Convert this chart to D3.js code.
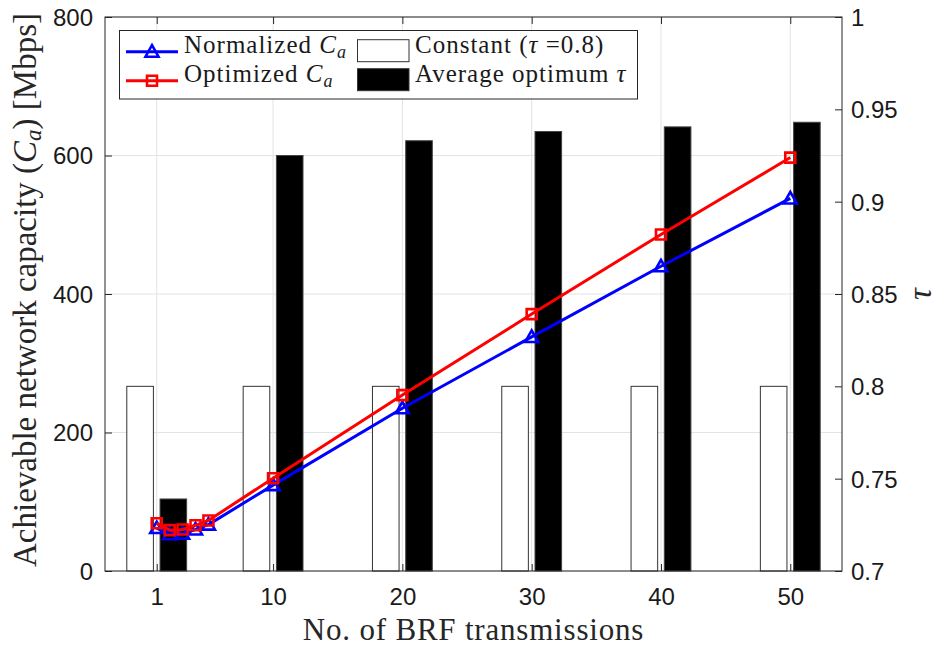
<!DOCTYPE html>
<html><head><meta charset="utf-8">
<script src="https://cdn.jsdelivr.net/npm/d3@7"></script>
<style>body{margin:0;background:#fff}</style>
</head><body><svg id="chart" width="939" height="648"></svg>
<script>
// ---- data ----
const brfTransmissions = [1, 2, 3, 4, 5, 10, 20, 30, 40, 50];
const normalizedCa = [62, 53, 54, 60, 67, 124, 235, 338, 440, 538];
const optimizedCa = [69, 59, 60, 66, 73, 134, 254, 371, 486, 597];
const barCategories = [1, 10, 20, 30, 40, 50];
const constantTau = [0.8, 0.8, 0.8, 0.8, 0.8, 0.8];
const avgOptimumTau = [0.739, 0.925, 0.933, 0.938, 0.9405, 0.943];
const xTickValues = [1, 10, 20, 30, 40, 50];
const xTickLabels = ["1", "10", "20", "30", "40", "50"];
const capacityTicks = [0, 200, 400, 600, 800];
const capacityTickLabels = ["0", "200", "400", "600", "800"];
const tauTicks = [0.7, 0.75, 0.8, 0.85, 0.9, 0.95, 1];
const tauTickLabels = ["0.7", "0.75", "0.8", "0.85", "0.9", "0.95", "1"];

// ---- layout ----
const L = 105, R = 842, T = 17, B = 571;
const svg = d3.select("#chart");
svg.append("rect").attr("width", 939).attr("height", 648).attr("fill", "#fff");

const x = d3.scaleLinear().domain([-3, 54]).range([L, R]);
const yL = d3.scaleLinear().domain([0, 800]).range([B, T]);
const yR = d3.scaleLinear().domain([0.7, 1]).range([B, T]);

const axisColor = "#262626";
const sans = "'Liberation Sans', Arial, sans-serif";
const serif = "'Liberation Serif', 'Times New Roman', serif";

// grid
const grid = svg.append("g").attr("stroke", "#e3e3e3").attr("stroke-width", 1);
grid.selectAll("line.v").data(xTickValues).join("line")
  .attr("x1", d => x(d)).attr("x2", d => x(d)).attr("y1", T).attr("y2", B);
grid.selectAll("line.h").data(capacityTicks).join("line")
  .attr("x1", L).attr("x2", R).attr("y1", d => yL(d)).attr("y2", d => yL(d));

// grouped bars (MATLAB-style group geometry)
const minGap = d3.min(d3.pairs(barCategories), p => p[1] - p[0]);
const groupW = minGap * Math.min(0.8, 2 / 3.5);
const barW = groupW / 2 * 0.8;
const off = groupW / 4;
const bars = svg.append("g");
bars.selectAll("rect.c").data(barCategories).join("rect")
  .attr("x", (d) => x(d - off - barW / 2))
  .attr("width", x(barW) - x(0))
  .attr("y", (d, i) => yR(constantTau[i]))
  .attr("height", (d, i) => yR(0.7) - yR(constantTau[i]))
  .attr("fill", "#fff").attr("stroke", "#333").attr("stroke-width", 1);
bars.selectAll("rect.o").data(barCategories).join("rect")
  .attr("x", (d) => x(d + off - barW / 2))
  .attr("width", x(barW) - x(0))
  .attr("y", (d, i) => yR(avgOptimumTau[i]))
  .attr("height", (d, i) => yR(0.7) - yR(avgOptimumTau[i]))
  .attr("fill", "#000").attr("stroke", "#444").attr("stroke-width", 1);

// markers
const triPath = "M0,-6.5L6.5,5L-6.5,5Z";
const sqPath = "M-5,-5L5,-5L5,5L-5,5Z";

function drawSeries(vals, color, path) {
  const line = d3.line().x((d, i) => x(brfTransmissions[i])).y(d => yL(d));
  svg.append("path").datum(vals).attr("d", line)
    .attr("fill", "none").attr("stroke", color).attr("stroke-width", 3)
    .attr("stroke-linejoin", "round");
  svg.append("g").selectAll("path").data(vals).join("path")
    .attr("transform", (d, i) => `translate(${x(brfTransmissions[i])},${yL(d)})`)
    .attr("d", path).attr("fill", "none").attr("stroke", color).attr("stroke-width", 2.6);
}
drawSeries(normalizedCa, "#0000ff", triPath);
drawSeries(optimizedCa, "#ff0000", sqPath);

// axes
function styleAxis(g) {
  g.select(".domain").remove();
  g.selectAll(".tick line").attr("stroke", axisColor);
  g.selectAll(".tick text").attr("fill", "#1a1a1a").attr("font-family", sans).attr("font-size", 24);
}
svg.append("g").attr("transform", `translate(${L},0)`)
  .call(d3.axisLeft(yL).tickValues(capacityTicks).tickFormat((d, i) => capacityTickLabels[i]).tickSize(-7).tickPadding(12))
  .call(styleAxis).selectAll(".tick text").attr("dy", "0.35em");
svg.append("g").attr("transform", `translate(${R},0)`)
  .call(d3.axisRight(yR).tickValues(tauTicks).tickFormat((d, i) => tauTickLabels[i]).tickSize(-7).tickPadding(9))
  .call(styleAxis).selectAll(".tick text").attr("dy", "0.35em");
svg.append("g").attr("transform", `translate(0,${B})`)
  .call(d3.axisBottom(x).tickValues(xTickValues).tickFormat((d, i) => xTickLabels[i]).tickSize(-7).tickPadding(17))
  .call(styleAxis);
svg.append("g").attr("transform", `translate(0,${T})`)
  .call(d3.axisTop(x).tickValues(xTickValues).tickFormat("").tickSize(-7))
  .call(styleAxis);

// frame
svg.append("rect").attr("x", L).attr("y", T).attr("width", R - L).attr("height", B - T)
  .attr("fill", "none").attr("stroke", axisColor).attr("stroke-width", 1);

// axis labels
svg.append("text").attr("x", (L + R) / 2).attr("y", 640)
  .attr("text-anchor", "middle").attr("font-family", serif).attr("font-size", 31)
  .attr("letter-spacing", 0.8).attr("fill", "#262626")
  .text("No. of BRF transmissions");

const yl = svg.append("text").attr("transform", "translate(36,290) rotate(-90)")
  .attr("text-anchor", "middle").attr("font-family", serif).attr("font-size", 33).attr("fill", "#262626");
yl.append("tspan").text("Achievable network capacity (");
yl.append("tspan").attr("font-style", "italic").text("C");
yl.append("tspan").attr("font-style", "italic").attr("font-size", 23).attr("dy", 5).text("a");
yl.append("tspan").attr("dy", -5).text(") [Mbps]");

svg.append("text").attr("transform", "translate(931,294) rotate(-90)")
  .attr("text-anchor", "middle").attr("font-family", serif).attr("font-style", "italic")
  .attr("font-size", 33).attr("fill", "#262626").text("τ");

// legend
const lg = svg.append("g");
lg.append("rect").attr("x", 119.5).attr("y", 30.5).attr("width", 518).attr("height", 68.5)
  .attr("fill", "#fff").attr("stroke", axisColor).attr("stroke-width", 1);
const rows = [51.7, 80.7];
const lineEntries = [
  {color: "#0000ff", path: triPath, label: "Normalized "},
  {color: "#ff0000", path: sqPath, label: "Optimized "}
];
lineEntries.forEach((e, i) => {
  const yy = rows[i];
  lg.append("line").attr("x1", 126).attr("x2", 178).attr("y1", yy).attr("y2", yy)
    .attr("stroke", e.color).attr("stroke-width", 3);
  lg.append("path").attr("transform", `translate(152,${yy})`).attr("d", e.path)
    .attr("fill", "none").attr("stroke", e.color).attr("stroke-width", 2.6);
  const t = lg.append("text").attr("x", 184).attr("y", yy + 1.5)
    .attr("font-family", serif).attr("font-size", 25).attr("letter-spacing", 1).attr("fill", "#1a1a1a");
  t.append("tspan").text(e.label);
  t.append("tspan").attr("font-style", "italic").text("C");
  t.append("tspan").attr("font-style", "italic").attr("font-size", 18).attr("dy", 5).text("a");
});
const barEntries = [
  {fill: "#fff", parts: [["Constant (", false], ["τ", true], [" =0.8)", false]]},
  {fill: "#000", parts: [["Average optimum ", false], ["τ", true]]}
];
barEntries.forEach((e, i) => {
  const yy = rows[i];
  lg.append("rect").attr("x", 357.5).attr("y", yy - 12).attr("width", 51.5).attr("height", 22)
    .attr("fill", e.fill).attr("stroke", "#333").attr("stroke-width", 1);
  const t = lg.append("text").attr("x", 415).attr("y", yy + 1.5)
    .attr("font-family", serif).attr("font-size", 25).attr("letter-spacing", 1).attr("fill", "#1a1a1a");
  e.parts.forEach(p => t.append("tspan").attr("font-style", p[1] ? "italic" : "normal").text(p[0]));
});
</script>
</body></html>
